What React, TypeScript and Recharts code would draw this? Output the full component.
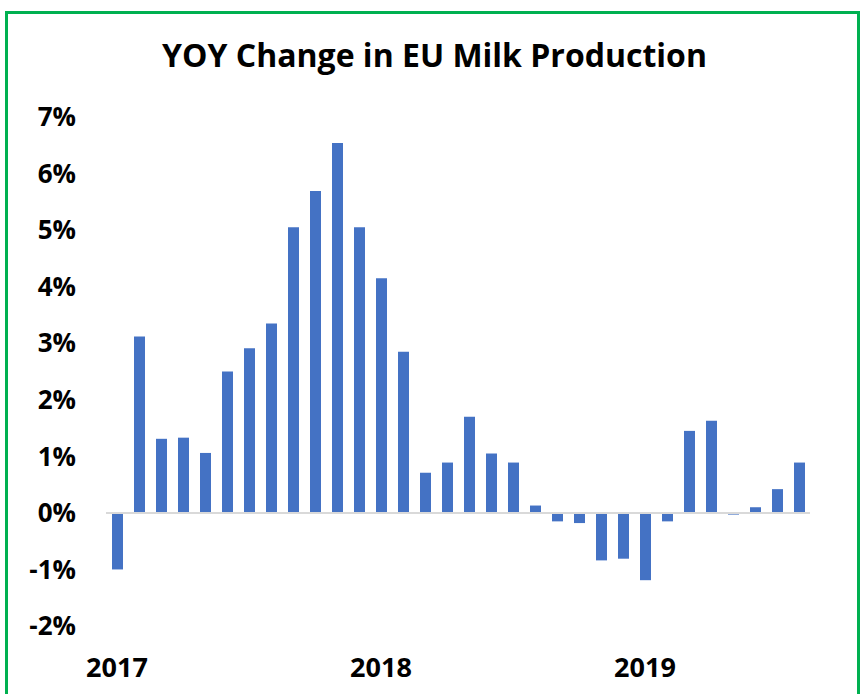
import { BarChart, Bar, XAxis, YAxis, ReferenceLine } from 'recharts'

const months = [
  '2017-01', '2017-02', '2017-03', '2017-04', '2017-05', '2017-06', '2017-07', '2017-08',
  '2017-09', '2017-10', '2017-11', '2017-12', '2018-01', '2018-02', '2018-03', '2018-04',
  '2018-05', '2018-06', '2018-07', '2018-08', '2018-09', '2018-10', '2018-11', '2018-12',
  '2019-01', '2019-02', '2019-03', '2019-04', '2019-05', '2019-06', '2019-07', '2019-08',
]

const yoyChange = [
  -1.0, 3.12, 1.31, 1.33, 1.06, 2.5, 2.91, 3.35,
  5.05, 5.69, 6.54, 5.05, 4.15, 2.85, 0.71, 0.89,
  1.7, 1.05, 0.89, 0.13, -0.15, -0.18, -0.84, -0.81,
  -1.19, -0.15, 1.45, 1.63, -0.03, 0.1, 0.42, 0.89,
]

const yTicks = [-2, -1, 0, 1, 2, 3, 4, 5, 6, 7]
const xTicks = ['2017-01', '2018-01', '2019-01']

const data = months.map((m, i) => ({ month: m, value: yoyChange[i] }))

const font = '"Open Sans", sans-serif'

export default function App() {
  return (
    <div style={{ position: 'absolute', left: 0, top: 0, width: 863, height: 694, overflow: 'hidden', background: '#fff' }}>
      <div
        style={{
          position: 'absolute',
          left: 5,
          top: 11,
          width: 849,
          height: 720,
          border: '3px solid #00b050',
        }}
      />
      <div
        style={{
          position: 'absolute',
          left: 0,
          top: 33,
          width: 869,
          textAlign: 'center',
          fontFamily: font,
          fontWeight: 700,
          fontSize: 32,
          color: '#000',
        }}
      >
        YOY Change in EU Milk Production
      </div>
      <div style={{ position: 'absolute', left: 0, top: 0 }}>
        <BarChart
          width={863}
          height={694}
          data={data}
          margin={{ top: 117, right: 53, bottom: 18, left: 0 }}
          barSize={11}
        >
          <XAxis
            dataKey="month"
            ticks={xTicks}
            tickFormatter={(v: string) => v.slice(0, 4)}
            axisLine={false}
            tickLine={false}
            tickSize={0}
            tickMargin={32}
            height={50}
            interval={0}
            tick={{ fill: '#000', fontSize: 27, fontWeight: 700, fontFamily: font }}
          />
          <YAxis
            domain={[-2, 7]}
            ticks={yTicks}
            tickFormatter={(v: number) => `${v}%`}
            axisLine={false}
            tickLine={false}
            tickSize={0}
            tickMargin={30}
            width={106}
            tick={{ fill: '#000', fontSize: 26, fontWeight: 700, fontFamily: font }}
          />
          <ReferenceLine y={0} stroke="#d9d9d9" strokeWidth={2} />
          <Bar dataKey="value" fill="#4472c4" isAnimationActive={false} />
        </BarChart>
      </div>
    </div>
  )
}
